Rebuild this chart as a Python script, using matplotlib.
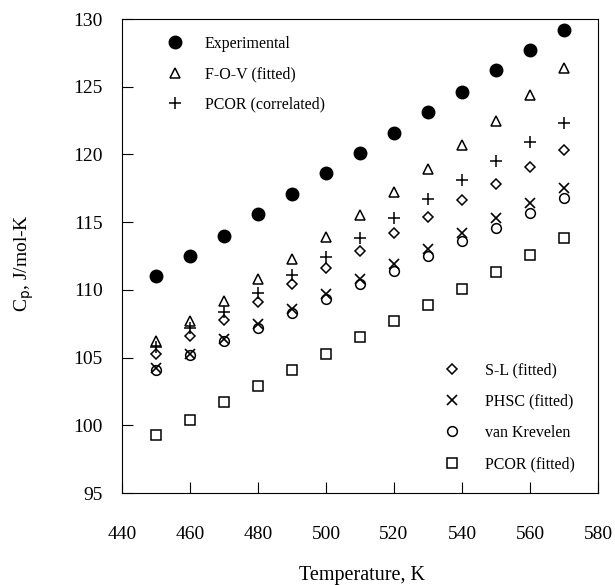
import numpy as np
import matplotlib.pyplot as plt

plt.rcParams['font.family'] = ['Liberation Serif', 'DejaVu Serif']

# 温度 (K)
temp = [450, 460, 470, 480, 490, 500, 510, 520, 530, 540, 550, 560, 570]

# 热容 Cp (J/mol-K)
experimental = [111.0, 112.5, 114.0, 115.6, 117.1, 118.6, 120.1, 121.6, 123.1, 124.6, 126.2, 127.7, 129.2]
fov_fitted = [106.2, 107.7, 109.2, 110.8, 112.3, 113.9, 115.5, 117.2, 118.9, 120.7, 122.5, 124.4, 126.4]
pcor_correlated = [105.8, 107.2, 108.4, 109.8, 111.1, 112.4, 113.8, 115.3, 116.7, 118.1, 119.5, 120.9, 122.3]
sl_fitted = [105.3, 106.6, 107.8, 109.1, 110.4, 111.6, 112.9, 114.2, 115.4, 116.6, 117.8, 119.1, 120.3]
phsc_fitted = [104.2, 105.3, 106.4, 107.5, 108.6, 109.7, 110.8, 111.9, 113.0, 114.2, 115.3, 116.4, 117.5]
van_krevelen = [104.1, 105.2, 106.2, 107.2, 108.3, 109.3, 110.4, 111.4, 112.5, 113.6, 114.6, 115.7, 116.8]
pcor_fitted = [99.3, 100.4, 101.7, 102.9, 104.1, 105.3, 106.5, 107.7, 108.9, 110.1, 111.3, 112.6, 113.8]

fig = plt.figure(figsize=(6.15, 5.85), dpi=100)
ax = fig.add_axes([122 / 615, 92 / 585, 476 / 615, 474 / 585])

kw = dict(linestyle='none', color='black')
h1, = ax.plot(temp, experimental, marker='o', markersize=9, label='Experimental', **kw)
h2, = ax.plot(temp, fov_fitted, marker='^', markersize=7, markerfacecolor='none',
              markeredgewidth=1.1, label='F-O-V (fitted)', **kw)
h3, = ax.plot(temp, pcor_correlated, marker='+', markersize=8, markeredgewidth=1.1,
              label='PCOR (correlated)', **kw)
h4, = ax.plot(temp, sl_fitted, marker='D', markersize=5, markerfacecolor='none',
              markeredgewidth=1.1, label='S-L (fitted)', **kw)
h5, = ax.plot(temp, phsc_fitted, marker='x', markersize=7, markeredgewidth=1.2,
              label='PHSC (fitted)', **kw)
h6, = ax.plot(temp, van_krevelen, marker='o', markersize=7, markerfacecolor='none',
              markeredgewidth=1.1, label='van Krevelen', **kw)
h7, = ax.plot(temp, pcor_fitted, marker='s', markersize=7, markerfacecolor='none',
              markeredgewidth=1.1, label='PCOR (fitted)', **kw)

ax.set_xlim(440, 580)
ax.set_ylim(95, 130)
ax.set_xticks(np.arange(440, 581, 20))
ax.set_yticks(np.arange(95, 131, 5))
ax.tick_params(direction='in', length=8, labelsize=14)
ax.tick_params(axis='x', pad=24)
ax.tick_params(axis='y', pad=14)

ax.set_xlabel('Temperature, K', fontsize=14.5)
ax.xaxis.set_label_coords(0.504, -0.173)
ax.xaxis.label.set_va('center')
ax.set_ylabel(r'C$_\mathrm{p}$, J/mol-K', fontsize=14)
ax.yaxis.set_label_coords(-0.205, 0.485)
ax.yaxis.label.set_va('center')

leg1 = ax.legend(handles=[h1, h2, h3], loc='upper left', frameon=False,
                 fontsize=11.5, handlelength=1.0, handletextpad=1.38,
                 labelspacing=0.88, borderpad=0, borderaxespad=0,
                 bbox_to_anchor=(0.0945, 0.964))
ax.add_artist(leg1)
ax.legend(handles=[h4, h5, h6, h7], loc='lower left', frameon=False,
          fontsize=11.5, handlelength=1.0, handletextpad=1.57,
          labelspacing=0.95, borderpad=0, borderaxespad=0,
          bbox_to_anchor=(0.676, 0.044))

plt.savefig('out.png', dpi=100)
